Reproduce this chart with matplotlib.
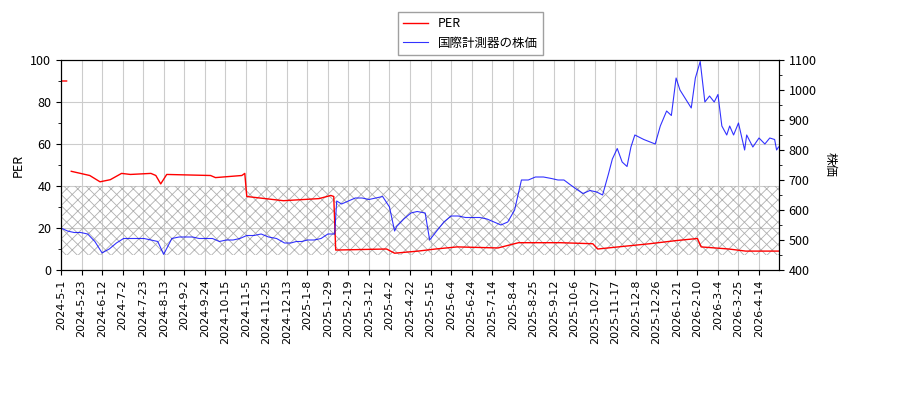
import matplotlib
matplotlib.use("Agg")
import matplotlib.pyplot as plt
import numpy as np
import pandas as pd

plt.rcParams['font.family'] = ['Noto Sans CJK JP', 'DejaVu Sans']
plt.rcParams['hatch.linewidth'] = 0.6

price_dates = ["2024-05-01","2024-05-08","2024-05-15","2024-05-22","2024-05-29","2024-06-05","2024-06-12","2024-06-19","2024-06-26",
 "2024-07-03","2024-07-10","2024-07-17","2024-07-24","2024-07-31","2024-08-07","2024-08-13","2024-08-21","2024-08-28",
 "2024-09-04","2024-09-11","2024-09-18","2024-09-25","2024-10-02","2024-10-09","2024-10-16","2024-10-23","2024-10-30",
 "2024-11-06","2024-11-13","2024-11-20","2024-11-27","2024-12-04","2024-12-11","2024-12-18","2024-12-25","2025-01-01",
 "2025-01-08","2025-01-15","2025-01-22","2025-01-29","2025-02-05","2025-02-07","2025-02-12","2025-02-19","2025-02-26",
 "2025-03-05","2025-03-12","2025-03-19","2025-03-26","2025-04-02","2025-04-07","2025-04-09","2025-04-16","2025-04-23",
 "2025-04-30","2025-05-09","2025-05-14","2025-05-21","2025-05-28","2025-06-04","2025-06-11","2025-06-18","2025-06-25",
 "2025-07-02","2025-07-09","2025-07-16","2025-07-23","2025-07-30","2025-08-06","2025-08-13","2025-08-20","2025-08-27",
 "2025-09-03","2025-09-10","2025-09-17","2025-09-24","2025-10-01","2025-10-08","2025-10-15","2025-10-22","2025-10-29",
 "2025-11-04","2025-11-10","2025-11-14","2025-11-19","2025-11-24","2025-11-29","2025-12-03","2025-12-07","2025-12-15",
 "2025-12-25","2025-12-31","2026-01-08","2026-01-14","2026-01-20","2026-01-24","2026-02-04","2026-02-08","2026-02-13",
 "2026-02-18","2026-02-23","2026-02-28","2026-03-04","2026-03-08","2026-03-13","2026-03-16","2026-03-20","2026-03-25",
 "2026-03-31","2026-04-02","2026-04-08","2026-04-14","2026-04-20","2026-04-25","2026-04-30","2026-05-02","2026-05-04"]
prices = [540,530,525,525,520,495,457,470,490,
 505,505,505,505,500,495,452,505,510,
 510,510,505,505,505,495,500,500,505,
 515,515,520,510,505,490,490,495,495,
 500,500,505,520,520,630,620,630,640,
 640,635,640,645,610,530,545,570,590,
 595,590,500,530,560,580,580,575,575,
 575,570,560,550,560,600,700,700,710,
 710,705,700,700,685,670,655,665,660,
 650,720,770,805,760,745,810,850,835,
 820,880,930,915,1040,1000,940,1040,1095,
 960,980,960,985,880,850,880,850,890,
 800,850,810,840,820,840,835,800,810]

per_dates = ["2024-05-01","2024-05-07","2024-05-08","2024-05-12","2024-05-31","2024-06-10","2024-06-20","2024-07-01","2024-07-10",
 "2024-07-31","2024-08-05","2024-08-10","2024-08-16","2024-09-30","2024-10-05","2024-11-01","2024-11-04","2024-11-06",
 "2024-12-10","2025-01-20","2025-02-01","2025-02-04","2025-02-06","2025-03-30","2025-04-07","2025-05-01","2025-05-20",
 "2025-06-10","2025-07-20","2025-08-10","2025-09-20","2025-10-25","2025-10-30","2025-11-20","2025-12-20","2026-01-20",
 "2026-02-10","2026-02-14","2026-03-15","2026-04-01","2026-05-04"]
pers = [90,90,np.nan,47,45,42,43,46,45.5,
 46,45,41,45.5,45,44,45,46,35,
 33,34,35.5,35,9.5,10,8,9,10,
 11,10.5,13,13,12.5,10,11,12.5,14,
 15,11,10,9,9]

tick_labels = ["2024-5-1","2024-5-23","2024-6-12","2024-7-2","2024-7-23","2024-8-13","2024-9-2","2024-9-24","2024-10-15",
 "2024-11-5","2024-11-25","2024-12-13","2025-1-8","2025-1-29","2025-2-19","2025-3-12","2025-4-2","2025-4-22","2025-5-15",
 "2025-6-4","2025-6-24","2025-7-14","2025-8-4","2025-8-25","2025-9-12","2025-10-6","2025-10-27","2025-11-17","2025-12-8",
 "2025-12-26","2026-1-21","2026-2-10","2026-3-4","2026-3-25","2026-4-14"]

# x axis is a trading-day axis: ticks evenly spaced
tick_ts = pd.to_datetime(tick_labels)
tick_days = (tick_ts - tick_ts[0]).days.values.astype(float)
tick_idx = np.arange(len(tick_ts), dtype=float)
ext_days = np.append(tick_days, tick_days[-1] + 21)
ext_idx = np.append(tick_idx, tick_idx[-1] + 1)

def pos(dates):
    d = (pd.to_datetime(dates) - tick_ts[0]).days.values.astype(float)
    return np.interp(d, ext_days, ext_idx)

xp = pos(price_dates)
xe = pos(per_dates)

fig = plt.figure(figsize=(9, 4), dpi=100)
ax1 = fig.add_axes([61/900, 130/400, 718/900, 210/400])
ax2 = ax1.twinx()

xmin, xmax = 0, tick_idx[-1] + 20/20.53
ax1.fill_between([xmin, xmax], 7, 40, facecolor='none', edgecolor='#b0b0b0', hatch='xxx', linewidth=0)
l1, = ax1.plot(xe, pers, color='red', lw=1, label='PER')
l2, = ax2.plot(xp, prices, color='blue', lw=0.8, alpha=0.8, label='国際計測器の株価')

ax1.set_xlim(xmin, xmax)
ax1.set_ylim(0, 100)
ax2.set_ylim(400, 1100)
ax1.set_xticks(tick_idx)
ax1.set_xticklabels(tick_labels, rotation=90, fontsize=8, family='DejaVu Sans')
ax1.set_yticks([0, 20, 40, 60, 80, 100])
ax1.yaxis.set_minor_locator(matplotlib.ticker.MultipleLocator(10))
ax2.yaxis.set_minor_locator(matplotlib.ticker.MultipleLocator(50))
ax1.grid(True, color='#cccccc', lw=0.8)
ax1.set_axisbelow(True)
ax1.set_ylabel('PER', fontsize=9)
ax2.set_ylabel('株価', rotation=-90, labelpad=14, fontsize=9)
for lab in ax1.get_yticklabels() + ax2.get_yticklabels():
    lab.set_fontsize(9)
fig.legend([l1, l2], ['PER', '国際計測器の株価'], loc='upper center', bbox_to_anchor=(0.523, 0.985),
           fontsize=9, fancybox=False, edgecolor='#888888')
fig.savefig('out.png')
